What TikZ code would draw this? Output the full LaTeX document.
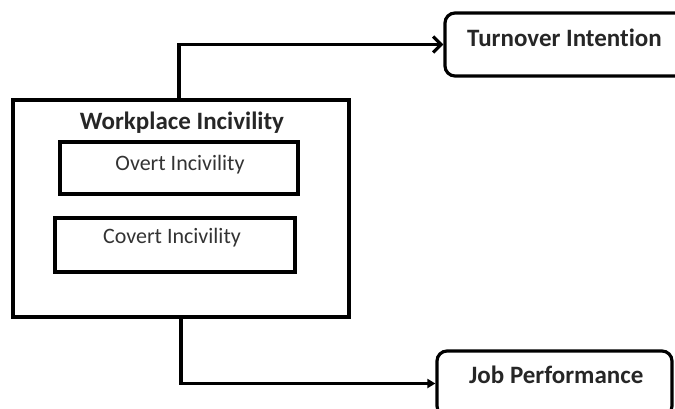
\documentclass[tikz,border=0pt]{standalone}
\usepackage{fontspec}
\setmainfont[Ligatures=NoCommon]{Carlito}
\usetikzlibrary{arrows.meta}
\tikzset{
  box/.style={draw=black, line width=4pt, rectangle, inner sep=0pt},
  rbox/.style={box, rounded corners=10pt, line width=3.2pt},
  boldtxt/.style={font=\fontsize{25}{29}\selectfont\bfseries, text=black!85, inner sep=0pt},
  regtxt/.style={font=\fontsize{22}{26}\selectfont, text=black!80, inner sep=0pt},
  link/.style={draw=black, line width=3.2pt},
}
\begin{document}
\begin{tikzpicture}[x=1pt, y=-1pt]
\useasboundingbox (0,0) rectangle (675,408);
\clip (0,0) rectangle (675,408);
% boxes
\node[box, minimum width=336pt, minimum height=217pt] (wi) at (181,208.5) {};
\node[box, minimum width=238pt, minimum height=52pt] (ov) at (179,167.5) {};
\node[box, minimum width=240pt, minimum height=54pt] (cv) at (174.5,245) {};
\node[rbox, minimum width=245pt, minimum height=63pt] (ti) at (567.5,44.5) {};
\node[rbox, minimum width=235pt, minimum height=65pt] (jp) at (554.5,383.5) {};
% texts
\node[boldtxt] (wit) at (182,123) {Workplace Incivility};
\node[regtxt] (ovt) at (180,165) {Overt Incivility};
\node[regtxt] (cvt) at (172,238) {Covert Incivility};
\node[boldtxt, anchor=west] (tit) at (467,38) {Turnover Intention};
\node[boldtxt, anchor=west] (jpt) at (469,375) {Job Performance};
% connectors
\draw[link, -{Straight Barb[length=8pt, width=16pt, line width=3.2pt]}] ([xshift=-2pt]wi.north) |- (ti.west);
\draw[link, -{Triangle[length=8pt, width=9pt]}] (wi.south) |- (jp.west);
\end{tikzpicture}
\end{document}
